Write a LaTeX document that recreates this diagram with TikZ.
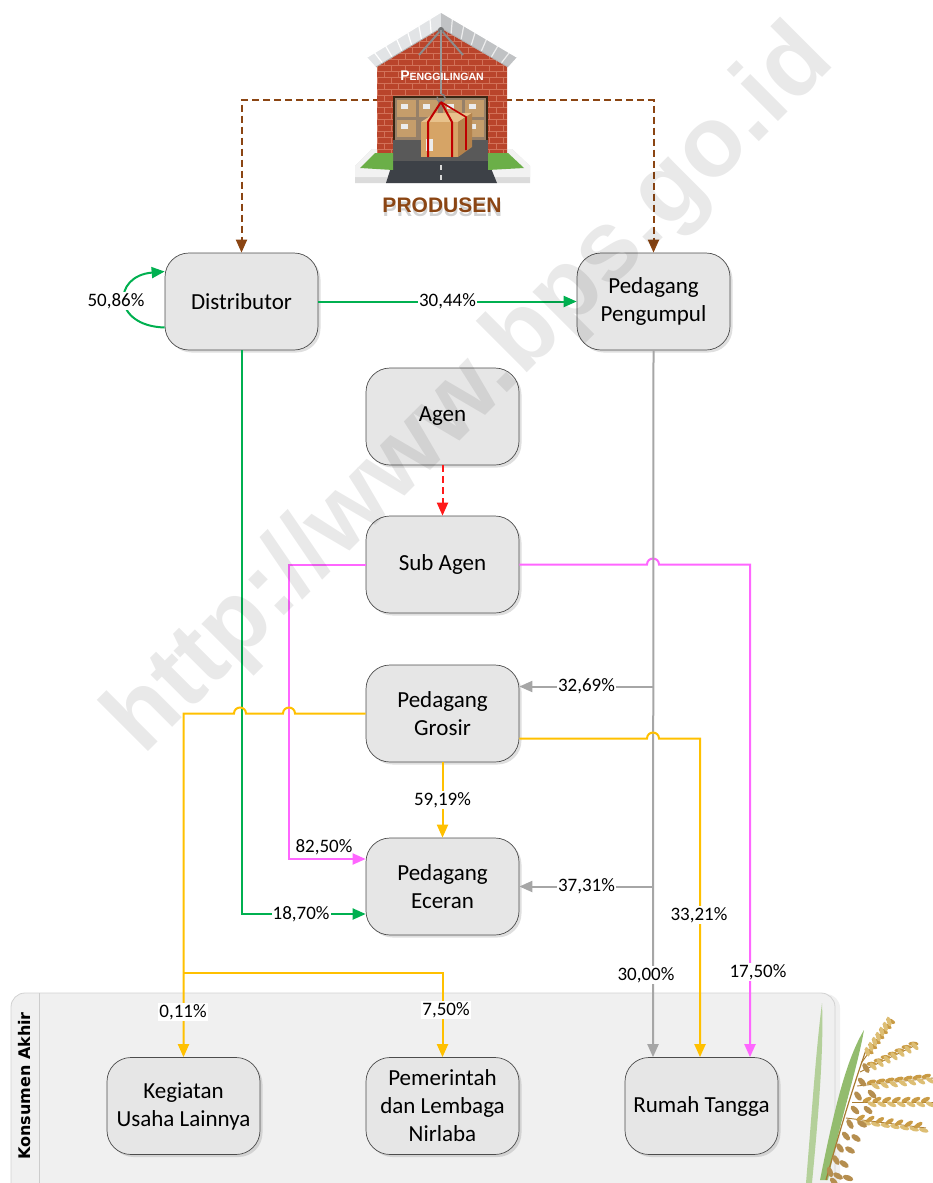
\documentclass[tikz,border=0pt]{standalone}
\usepackage{fontspec}
\setmainfont{Carlito}
\newfontfamily\sansbold{Liberation Sans}
\newfontfamily\bandfont{DejaVu Sans}
\usetikzlibrary{arrows.meta,shadows,calc}

\definecolor{flowgreen}{HTML}{00B050}
\definecolor{flowpink}{HTML}{FF66FF}
\definecolor{flowgray}{HTML}{A6A6A6}
\definecolor{flowyellow}{HTML}{FFC000}
\definecolor{flowbrown}{HTML}{8B4513}
\definecolor{flowred}{HTML}{FF1A1A}
\definecolor{boxgray}{HTML}{E6E6E6}
\definecolor{brick}{HTML}{B9442B}
\definecolor{mortar}{HTML}{D27259}
\definecolor{bandgray}{HTML}{F0F0F0}
\definecolor{roofgray}{HTML}{E2E4E6}
\definecolor{cardboard}{HTML}{D6A466}
\definecolor{cardtop}{HTML}{E8C28C}
\definecolor{cardside}{HTML}{B4834C}
\definecolor{grass}{HTML}{6BAF48}
\definecolor{asphalt}{HTML}{3D4147}
\definecolor{grain}{HTML}{C99B45}
\definecolor{grainlight}{HTML}{DDBE74}
\definecolor{graindark}{HTML}{A87A30}
\definecolor{leaf}{HTML}{93BC6E}

\begin{document}
\begin{tikzpicture}[x=1pt,y=-1pt,
  actor/.style={draw=black!70, line width=0.7pt, fill=boxgray,
    rounded corners=24pt, minimum width=153pt, minimum height=97pt,
    align=center, inner sep=2pt, font=\fontsize{23}{28}\selectfont,
    drop shadow={shadow xshift=2.5pt, shadow yshift=-2.5pt, opacity=0.25}},
  flow/.style={line width=2pt, -{Triangle[length=13pt,width=11pt]}},
  gflow/.style={flow, color=flowgreen},
  pflow/.style={flow, color=flowpink},
  grflow/.style={flow, color=flowgray},
  yflow/.style={flow, color=flowyellow},
  bflow/.style={flow, color=flowbrown, dash pattern=on 7pt off 4pt},
  rflow/.style={flow, color=flowred, dash pattern=on 7pt off 4pt},
  pct/.style={font=\fontsize{19}{22}\selectfont, text=black, fill=white, inner sep=1pt},
  pctfree/.style={font=\fontsize{19}{22}\selectfont, text=black, inner sep=1pt},
]
\useasboundingbox (0,0) rectangle (933,1183);

% ---------- final consumers band ----------
\path[fill=bandgray, draw=black!18, line width=0.8pt, rounded corners=14pt,
  drop shadow={shadow xshift=5pt, shadow yshift=-1pt, opacity=0.12}]
  (11,993) rectangle (835,1215);
\draw[black!20, line width=0.8pt] (39,993) -- (39,1183);
\node[rotate=90, font=\bandfont\bfseries\fontsize{16}{16}\selectfont] (band) at (25,1086) {Konsumen Akhir};

% ---------- actors ----------
\node[actor] (dist) at (241.5,301.5) {Distributor};
\node[actor] (pengumpul) at (653.5,301.5) {Pedagang\\Pengumpul};
\node[actor] (agen) at (442.5,416.5) {Agen};
\node[actor] (subagen) at (442.5,564.5) {Sub Agen};
\node[actor] (grosir) at (442.5,713.5) {Pedagang\\Grosir};
\node[actor] (eceran) at (442.5,886.5) {Pedagang\\Eceran};
\node[actor] (kegiatan) at (183.5,1106) {Kegiatan\\Usaha Lainnya};
\node[actor] (pemerintah) at (442.5,1106) {Pemerintah\\dan Lembaga\\Nirlaba};
\node[actor] (rumah) at (701.5,1106) {Rumah Tangga};

% ---------- producer supply (dashed) ----------
\coordinate (whL) at (380,100);
\coordinate (whR) at (505,100);
\draw[bflow] (whL) -| (dist.north);
\draw[bflow] (whR) -| (pengumpul.north);

% ---------- producer: the mill building ----------
% platform and its front edge
\fill[black!14] (355,166) -- (372,149) -- (512,149) -- (530,166) -- (530,183) -- (355,183) -- cycle;
\fill[white!95!black] (355,166) -- (372,149) -- (512,149) -- (530,166) -- (530,177) -- (355,177) -- cycle;
% brick walls with gable
\path[fill=brick] (377,64) -- (441,27) -- (507,64) -- (507,161) -- (377,161) -- cycle;
\begin{scope}
  \clip (377,64) -- (441,27) -- (507,64) -- (507,161) -- (377,161) -- cycle;
  \foreach \r in {0,...,22} {
    \draw[mortar, line width=0.6pt] (377,{29+\r*6}) -- (507,{29+\r*6});
    \foreach \c in {0,...,9} {
      \draw[mortar, line width=0.5pt] ({377+\c*14+mod(\r,2)*7},{29+\r*6}) -- ++(0,6);
    }
  }
\end{scope}
% roof panels
\fill[roofgray] (441,12) -- (367,57) -- (376,67) -- (441,28) -- cycle;
\fill[roofgray!85!black] (441,12) -- (517,57) -- (508,67) -- (441,28) -- cycle;
\foreach \k in {0.15,0.3,...,0.95} {
  \draw[white, line width=1.2pt] ($(441,12)!\k!(367,57)$) -- ($(441,28)!\k!(376,67)$);
  \draw[white!85!gray, line width=1.2pt] ($(441,12)!\k!(517,57)$) -- ($(441,28)!\k!(508,67)$);
}
\draw[white, line width=1.4pt] (367,57) -- (441,12) -- (517,57);
\draw[black!30, line width=0.8pt] (376,67) -- (441,28) -- (508,67);
% door opening with stacked cartons
\fill[black!70!brown] (393,96) rectangle (488,161);
\fill[brown!35!gray] (395,98) rectangle (486,140);
\foreach \bx/\by in {397/100,419/100,443/100,465/100,397/120,465/120} {
  \fill[cardboard!80!gray] (\bx,\by) rectangle ++(19,17);
  \fill[white!85!gray] ({\bx+4},{\by+4}) rectangle ++(7,5);
}
\fill[black!65] (393,140) rectangle (488,161);
% crane arms and hook
\draw[black!45, line width=2pt] (441,30) -- (419,55);
\draw[black!45, line width=2pt] (441,30) -- (463,55);
\fill[black!55] (441,30) circle[radius=3pt];
\draw[black!40, line width=1.2pt] (441,30) -- (441,94);
\draw[black!50, line width=1.5pt] (441,94) arc[start angle=90, end angle=-200, radius=4pt];
% hanging carton
\fill[cardtop] (421,122) -- (435,113) -- (472,113) -- (458,122) -- cycle;
\fill[cardside] (458,122) -- (472,113) -- (472,147) -- (458,157) -- cycle;
\fill[cardboard] (421,122) rectangle (458,157);
\fill[white!85!gray] (426,139) rectangle (433,151);
\draw[red!75!black, line width=2pt] (441,102) -- (428,122) -- (428,157);
\draw[red!75!black, line width=2pt] (441,102) -- (452,122) -- (452,157);
\draw[red!75!black, line width=1.6pt] (441,102) -- (466,117) -- (466,150);
% road
\fill[asphalt] (393,161) -- (488,161) -- (497,183) -- (386,183) -- cycle;
\draw[white!70!gray, line width=1.2pt] (441,165) -- (441,170) (441,175) -- (441,180);
% grass corners
\fill[grass] (360,168) -- (375,153) -- (393,153) -- (393,170) -- cycle;
\fill[grass] (488,153) -- (508,153) -- (524,168) -- (488,170) -- cycle;
% labels of the producer
\node[text=white, font=\sansbold\bfseries] (mill) at (442,76)
  {\fontsize{14}{14}\selectfont P\fontsize{10.5}{10.5}\selectfont ENGGILINGAN};
\node[text=black!18, font=\sansbold\bfseries\fontsize{21}{21}\selectfont] (produsenshade) at (442.5,209) {PRODUSEN};
\node[text=flowbrown, font=\sansbold\bfseries\fontsize{21}{21}\selectfont] (produsen) at (442,205) {PRODUSEN};

% ---------- distributor flows ----------
\draw[gflow] (dist.east) -- node[pct] (l3044) {30,44\%} (pengumpul.west);
\draw[gflow] ($(dist.west)+(0,26)$) .. controls (112,326) and (112,276) .. ($(dist.west)+(0,-30)$);
\node[pct] (l5086) at (116,301) {50,86\%};
\draw[gflow] (dist.south) |- node[pct, pos=0.74] (l1870) {18,70\%} ($(eceran.west)+(0,27.5)$);

% ---------- agent flows ----------
\draw[rflow] (agen.south) -- (subagen.north);
\draw[pflow] (subagen.west) -| (289,859) -- ($(eceran.west)+(0,-27.5)$);
\node[pctfree] (l8250) at (324,847) {82,50\%};
\draw[pflow] (subagen.east) -- (647,564.5) arc[start angle=180, end angle=0, radius=6pt]
  -- (750,564.5) -- ($(rumah.north)+(48.5,0)$);
\node[pct] (l1750) at (758,972) {17,50\%};

% ---------- collector flows ----------
\draw[grflow] (pengumpul.south) -- ($(rumah.north)+(-48.5,0)$);
\node[pct] (l3000) at (646,975) {30,00\%};
\coordinate (gj1) at ($(pengumpul.south |- grosir.east)+(0,-27)$);
\coordinate (gj2) at (pengumpul.south |- eceran.east);
\draw[grflow] (gj1) -- node[pct] (l3269) {32,69\%} ($(grosir.east)+(0,-27)$);
\draw[grflow] (gj2) -- node[pct] (l3731) {37,31\%} (eceran.east);

% ---------- wholesaler flows ----------
\draw[yflow] (grosir.south) -- node[pct] (l5919) {59,19\%} (eceran.north);
\draw[yflow] (grosir.west) -- (295,713.5) arc[start angle=0, end angle=180, radius=6pt]
  -- (246,713.5) arc[start angle=0, end angle=180, radius=6pt]
  -- (183.5,713.5) -- (kegiatan.north);
\node[pct] (l011) at (183,1012) {0,11\%};
\coordinate (yj) at (183.5,973);
\draw[yflow] (yj) -| (pemerintah.north);
\node[pct] (l750) at (446,1010) {7,50\%};
\draw[yflow] ($(grosir.east)+(0,25)$) -- (647,738.5) arc[start angle=180, end angle=0, radius=6pt]
  -- (700,738.5) -- ($(rumah.north)+(-1.5,0)$);
\node[pct] (l3321) at (699,915) {33,21\%};

% ---------- rice stalk ----------
\fill[leaf!70!white] (806,1183) .. controls (812,1110) and (816,1050) .. (822,1003)
  .. controls (824,1050) and (818,1120) .. (812,1183) -- cycle;
\fill[leaf] (820,1180) .. controls (834,1110) and (846,1060) .. (864,1030)
  .. controls (857,1070) and (840,1120) .. (828,1180) -- cycle;
% main stalk of the panicle
\draw[graindark, line width=1.2pt] (826,1180) .. controls (840,1130) and (852,1090) .. (866,1050);
% side branches drooping to the right, with grains
\foreach \sx/\sy/\ex/\ey/\ang in {862/1062/892/1020/-50, 860/1072/918/1044/-25,
    857/1086/933/1078/-8, 852/1102/933/1102/0, 846/1118/926/1128/8} {
  \draw[graindark, line width=0.9pt] (\sx,\sy) -- (\ex,\ey);
  \foreach \t in {0.2,0.32,...,1.0} {
    \fill[grain, shift={($(\sx,\sy)!\t!(\ex,\ey)$)}, rotate=\ang+25] (0,-2.5) ellipse[x radius=5pt, y radius=2.2pt];
    \fill[grainlight, shift={($(\sx,\sy)!\t+0.06!(\ex,\ey)$)}, rotate=\ang-25] (0,2.5) ellipse[x radius=5pt, y radius=2.2pt];
  }
}
% dense grains along the lower stalk
\foreach \gx/\gy/\ang in {830/1172/-70,836/1160/-60,840/1148/-55,846/1136/-50,850/1124/-60,855/1110/-45,
  858/1096/-55,862/1082/-50,866/1068/-60,838/1176/-30,844/1164/-35,850/1150/-30,856/1138/-35,
  862/1124/-30,868/1110/-40,872/1094/-45,834/1182/-50,848/1178/-20} {
  \fill[graindark!85!white, shift={(\gx,\gy)}, rotate=\ang] (0,0) ellipse[x radius=5.5pt, y radius=2.8pt];
}

% ---------- web address watermark ----------
\node[rotate=45, opacity=0.085, font=\sansbold\bfseries\fontsize{100}{100}\selectfont] (wm)
  at (472,392) {http://www.bps.go.id};
\end{tikzpicture}
\end{document}
